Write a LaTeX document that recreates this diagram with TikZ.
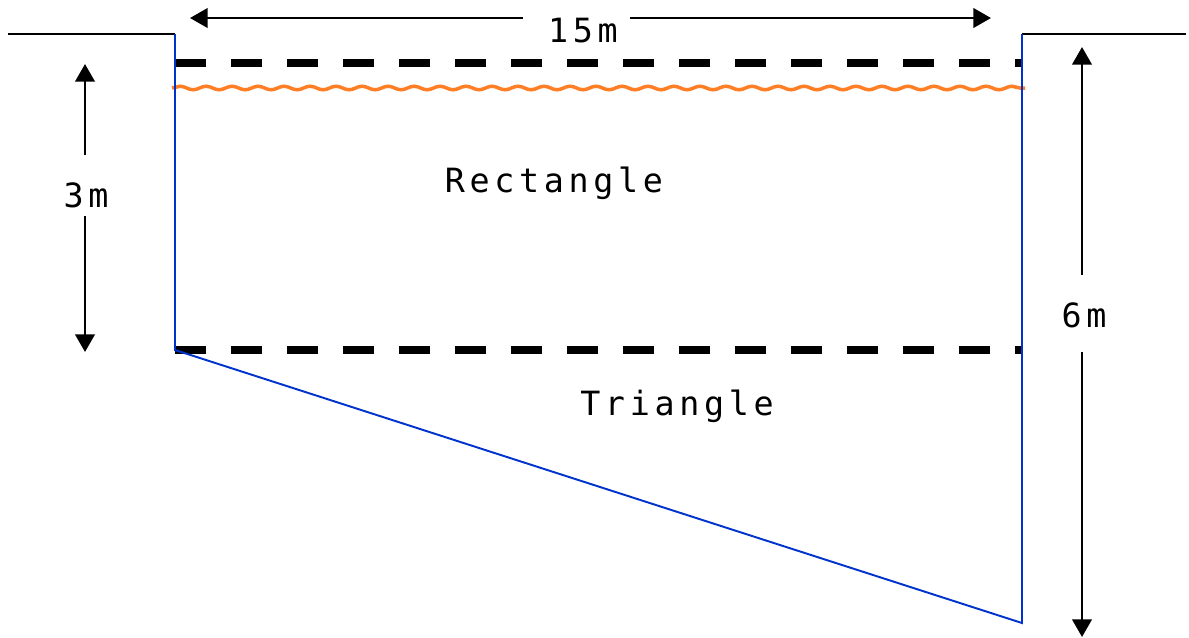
\documentclass[tikz,border=0pt]{standalone}
\usepackage{fontspec}
\newfontfamily\lblfont[LetterSpace=14]{DejaVu Sans Mono}
\usetikzlibrary{arrows.meta,decorations.pathmorphing}
\definecolor{wallblue}{HTML}{0033CC}
\definecolor{waterorange}{HTML}{FF7F27}
\tikzset{
  ground/.style={line width=0.9pt, black},
  wall/.style={line width=1.1pt, wallblue},
  level/.style={line width=4pt, black, dash pattern=on 0.62cm off 0.5cm},
  wave/.style={line width=2pt, waterorange, decorate, decoration={snake, segment length=0.52cm, amplitude=0.035cm}},
  dim/.style={line width=1.6pt, black, -{Triangle[width=11pt,length=10pt]}},
  lbl/.style={font=\lblfont\fontsize{19}{22}\selectfont, inner sep=0pt, anchor=base}
}
\begin{document}
\begin{tikzpicture}[x=0.02cm, y=-0.02cm]
\useasboundingbox (0,0) rectangle (1189,637);
% key points
\coordinate (gl) at (8,34);
\coordinate (tl) at (175,34);
\coordinate (tr) at (1022,34);
\coordinate (gr) at (1186,34);
\coordinate (ml) at (175,350);
\coordinate (mr) at (1022,350);
\coordinate (br) at (1022,623);
\coordinate (dl) at (175,63);
\coordinate (dr) at (1022,63);
\coordinate (wl) at (172,88);
\coordinate (wr) at (1025,88);
% ground
\draw[ground] (gl) -- (tl);
\draw[ground] (tr) -- (gr);
% levels
\draw[level] (dl) -- (dr);
\draw[level] (ml) -- (mr);
\draw[wave] (wl) -- (wr);
% walls
\draw[wall] (tl) -- (ml) -- (br) -- (tr);
% labels
\node[lbl] (rect) at (554,192) {Rectangle};
\node[lbl] (tri) at (677,415) {Triangle};
\node[lbl] (w15) at (583,42) {15m};
\node[lbl] (h3) at (86,207) {3m};
\node[lbl] (h6) at (1084,327) {6m};
% dimension arrows
\coordinate (w15a) at (523,18);
\coordinate (w15b) at (630,18);
\coordinate (w15l) at (190,18);
\coordinate (w15r) at (991,18);
\draw[dim] (w15a) -- (w15l);
\draw[dim] (w15b) -- (w15r);
\coordinate (h3a) at (85,155);
\coordinate (h3b) at (85,216);
\coordinate (h3t) at (85,64);
\coordinate (h3d) at (85,352);
\draw[dim] (h3a) -- (h3t);
\draw[dim] (h3b) -- (h3d);
\coordinate (h6a) at (1082,275);
\coordinate (h6b) at (1082,352);
\coordinate (h6t) at (1082,47);
\coordinate (h6d) at (1082,637);
\draw[dim] (h6a) -- (h6t);
\draw[dim] (h6b) -- (h6d);
\end{tikzpicture}
\end{document}
